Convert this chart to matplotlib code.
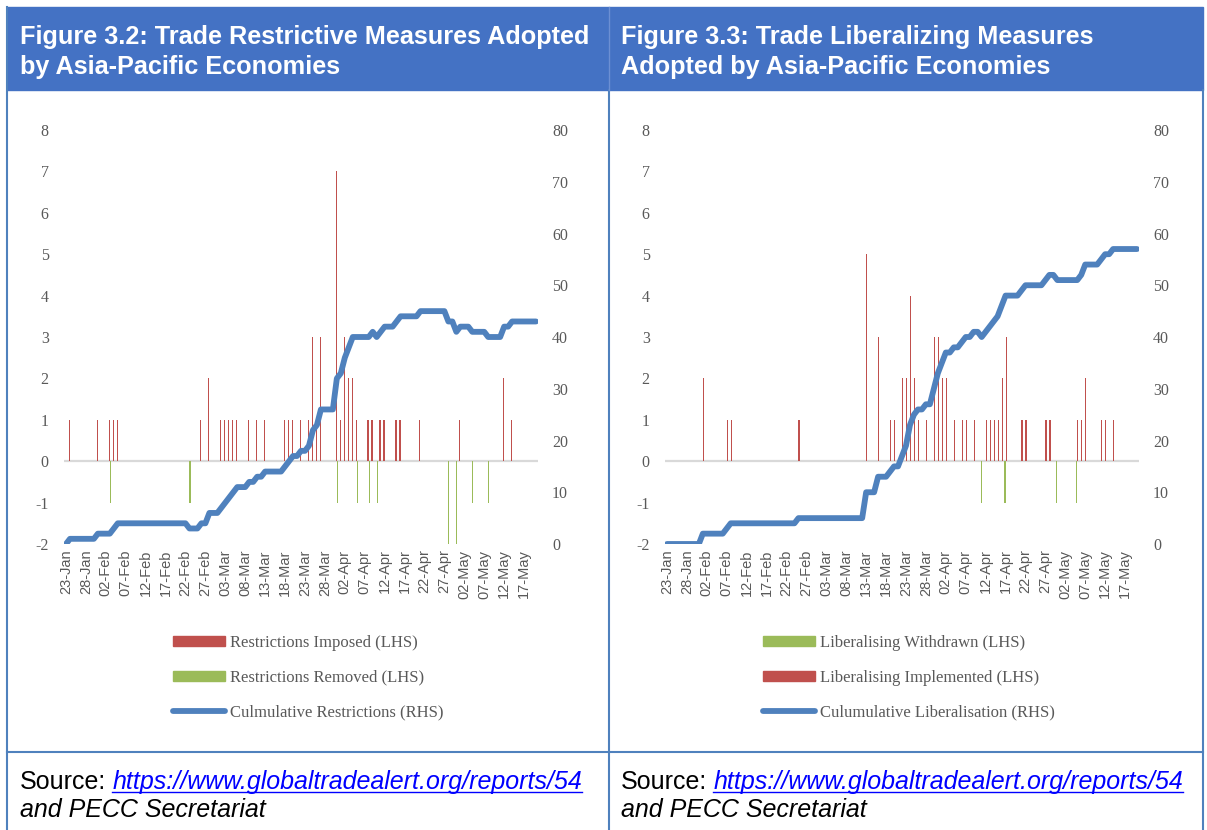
import matplotlib
matplotlib.use('Agg')
import matplotlib.pyplot as plt
from matplotlib.patches import Rectangle, Patch
from matplotlib.lines import Line2D
import numpy as np

plt.rcParams['axes.unicode_minus'] = False

W, H = 1207, 830

# daily points 23-Jan .. 20-May, labels every 5 days
n_days = 119
tick_labels = ['23-Jan', '28-Jan', '02-Feb', '07-Feb', '12-Feb', '17-Feb', '22-Feb',
               '27-Feb', '03-Mar', '08-Mar', '13-Mar', '18-Mar', '23-Mar', '28-Mar',
               '02-Apr', '07-Apr', '12-Apr', '17-Apr', '22-Apr', '27-Apr', '02-May',
               '07-May', '12-May', '17-May']

# Figure 3.2 - restrictive measures (day index from 23-Jan)
imposed_days = [1, 8, 11, 12, 13, 34, 36, 39, 40, 41, 42, 43, 46, 48, 50, 55, 56, 57, 59,
                61, 62, 63, 64, 68, 69, 70, 71, 72, 73, 76, 77, 79, 80, 83, 84, 89, 99, 110, 112]
imposed = [1, 1, 1, 1, 1, 1, 2, 1, 1, 1, 1, 1, 1, 1, 1, 1, 1, 1, 1,
           1, 3, 1, 3, 7, 1, 3, 2, 2, 1, 1, 1, 1, 1, 1, 1, 1, 1, 2, 1]
removed_days = [11, 31, 68, 73, 76, 78, 96, 98, 102, 106]
removed = [1, 1, 1, 1, 1, 1, 2, 2, 1, 1]
cum_restrictions = [0, 1, 1, 1, 1, 1, 1, 1, 2, 2,
                    2, 2, 3, 4, 4, 4, 4, 4, 4, 4,
                    4, 4, 4, 4, 4, 4, 4, 4, 4, 4,
                    4, 3, 3, 3, 4, 4, 6, 6, 6, 7,
                    8, 9, 10, 11, 11, 11, 12, 12, 13, 13,
                    14, 14, 14, 14, 14, 15, 16, 17, 17, 18,
                    18, 19, 22, 23, 26, 26, 26, 26, 32, 33,
                    36, 38, 40, 40, 40, 40, 40, 41, 40, 41,
                    42, 42, 42, 43, 44, 44, 44, 44, 44, 45,
                    45, 45, 45, 45, 45, 45, 43, 43, 41, 42,
                    42, 42, 41, 41, 41, 41, 40, 40, 40, 40,
                    42, 42, 43, 43, 43, 43, 43, 43, 43]

# Figure 3.3 - liberalising measures
implemented_days = [9, 15, 16, 33, 50, 53, 56, 57, 59, 60, 61, 62, 63, 65, 67, 68, 69, 70, 72,
                    74, 75, 77, 80, 81, 82, 83, 84, 85, 89, 90, 95, 96, 103, 104, 105, 109, 110, 112]
implemented = [2, 1, 1, 1, 5, 3, 1, 1, 2, 2, 4, 2, 1, 1, 3, 3, 2, 2, 1,
               1, 1, 1, 1, 1, 1, 1, 2, 3, 1, 1, 1, 1, 1, 1, 2, 1, 1, 1]
withdrawn_days = [79, 85, 98, 103]
withdrawn = [1, 1, 1, 1]
cum_liberalisation = [0, 0, 0, 0, 0, 0, 0, 0, 0, 2,
                      2, 2, 2, 2, 2, 3, 4, 4, 4, 4,
                      4, 4, 4, 4, 4, 4, 4, 4, 4, 4,
                      4, 4, 4, 5, 5, 5, 5, 5, 5, 5,
                      5, 5, 5, 5, 5, 5, 5, 5, 5, 5,
                      10, 10, 10, 13, 13, 13, 14, 15, 15, 17,
                      19, 23, 25, 26, 26, 27, 27, 30, 33, 35,
                      37, 37, 38, 38, 39, 40, 40, 41, 41, 40,
                      41, 42, 43, 44, 46, 48, 48, 48, 48, 49,
                      50, 50, 50, 50, 50, 51, 52, 52, 51, 51,
                      51, 51, 51, 51, 52, 54, 54, 54, 54, 55,
                      56, 56, 57, 57, 57, 57, 57, 57, 57]

RED = '#C0504D'
GREEN = '#9BBB59'
BLUE = '#4F81BD'
HEADER = '#4472C4'
BORDER = '#4F81BD'
GREY = '#595959'
SERIF = 'Liberation Serif'
SANS = 'Liberation Sans'

fig = plt.figure(figsize=(W / 100, H / 100), dpi=100)


def px(x, y):
    return x / W, 1 - y / H


def panel(x0, pos_days, pos_vals, neg_days, neg_vals, cum, pos_off, neg_off,
          handles, labels, leg_x):
    ax = fig.add_axes([x0 / W, 1 - 544 / H, 474 / W, 414 / H])
    ax.set_xlim(-0.5, n_days - 0.5)
    ax.set_ylim(-2, 8)
    ax.set_yticks(range(-2, 9))
    ax.bar(np.array(pos_days) + pos_off, pos_vals, width=0.3, color=RED, linewidth=0, zorder=2)
    ax.bar(np.array(neg_days) + neg_off, -np.array(neg_vals), width=0.3, color=GREEN,
           linewidth=0, zorder=2)
    ax.axhline(0, color='#D9D9D9', lw=1.6, zorder=1)
    ax.set_xticks(range(0, 116, 5))
    ax.set_xticklabels(tick_labels, rotation=90, fontfamily=SANS, fontsize=10.5, color=GREY)
    ax.tick_params(axis='x', length=0, pad=4)
    ax.tick_params(axis='y', length=0, pad=11, labelsize=11.5, labelcolor=GREY)
    for t in ax.get_yticklabels():
        t.set_fontfamily(SERIF)
    for s in ax.spines.values():
        s.set_visible(False)

    ax2 = ax.twinx()
    ax2.set_ylim(0, 80)
    ax2.set_yticks(range(0, 81, 10))
    ax2.plot(range(n_days), cum, color=BLUE, lw=4.2, solid_joinstyle='round',
             solid_capstyle='round', zorder=3)
    ax2.tick_params(axis='y', length=0, pad=10, labelsize=11.5, labelcolor=GREY)
    for t in ax2.get_yticklabels():
        t.set_fontfamily(SERIF)
    for s in ax2.spines.values():
        s.set_visible(False)

    fig.legend(handles, labels, loc='upper left', bbox_to_anchor=px(leg_x, 635),
               frameon=False, borderpad=0, borderaxespad=0, handlelength=3.1,
               handleheight=0.55, handletextpad=0.3, labelspacing=1.12,
               prop={'family': SERIF, 'size': 12}, labelcolor=GREY)


red_patch = Patch(color=RED)
green_patch = Patch(color=GREEN)
blue_line = Line2D([], [], color=BLUE, lw=4.2, solid_capstyle='round')

panel(64, imposed_days, imposed, removed_days, removed, cum_restrictions, -0.16, 0.12,
      [red_patch, green_patch, blue_line],
      ['Restrictions Imposed (LHS)', 'Restrictions Removed (LHS)',
       'Culmulative Restrictions (RHS)'], 173)
panel(665, implemented_days, implemented, withdrawn_days, withdrawn, cum_liberalisation,
      0.14, -0.14,
      [green_patch, red_patch, blue_line],
      ['Liberalising Withdrawn (LHS)', 'Liberalising Implemented (LHS)',
       'Culumulative Liberalisation (RHS)'], 763)

# header band and table borders
fig.patches.append(Rectangle(px(7, 90), 1196 / W, 83 / H, transform=fig.transFigure,
                             color=HEADER, zorder=0))
for xa, ya, xb, yb in [(7, 7, 7, 830), (609, 90, 609, 830), (1203, 90, 1203, 830),
                       (7, 752, 1203, 752)]:
    fig.add_artist(Line2D([xa / W, xb / W], [1 - ya / H, 1 - yb / H], color=BORDER, lw=1.5))
fig.add_artist(Line2D([609 / W, 609 / W], [1 - 7 / H, 1 - 90 / H], color='#6C8FD3', lw=1))

titles = [(20, 'Figure 3.2: Trade Restrictive Measures Adopted', 'by Asia-Pacific Economies'),
          (621, 'Figure 3.3: Trade Liberalizing Measures', 'Adopted by Asia-Pacific Economies')]
for x, l1, l2 in titles:
    for yb, s in [(44, l1), (74, l2)]:
        fig.text(*px(x, yb), s, ha='left', va='baseline', color='white', fontweight='bold',
                 fontfamily=SANS, fontsize=18.2)

# source notes
fig.canvas.draw()
r = fig.canvas.get_renderer()
for x in (20, 621):
    t1 = fig.text(*px(x, 789), 'Source:', ha='left', va='baseline', color='black',
                  fontfamily=SANS, fontsize=18)
    bb = t1.get_window_extent(r)
    lx = bb.x1 + 6
    t2 = fig.text(lx / W, 1 - 789 / H, 'https://www.globaltradealert.org/reports/54',
                  ha='left', va='baseline', color='#0000FF', fontstyle='italic',
                  fontfamily=SANS, fontsize=18)
    bb2 = t2.get_window_extent(r)
    fig.add_artist(Line2D([bb2.x0 / W, bb2.x1 / W], [1 - 792 / H, 1 - 792 / H],
                          color='#0000FF', lw=1))
    fig.text(*px(x, 817), 'and PECC Secretariat', ha='left', va='baseline', color='black',
             fontstyle='italic', fontfamily=SANS, fontsize=18)

fig.savefig('out.png', dpi=100)
